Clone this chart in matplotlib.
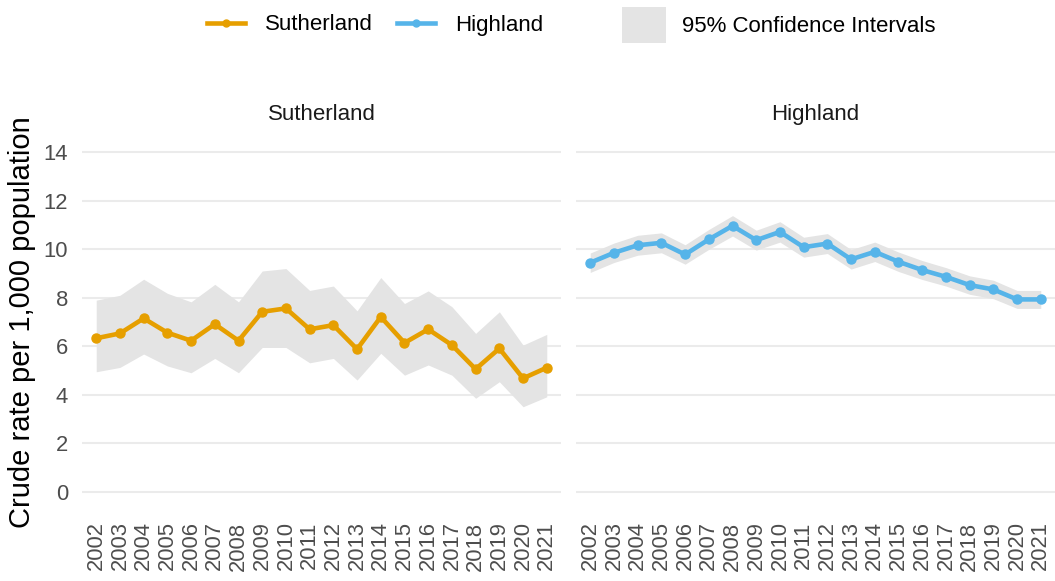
import matplotlib
matplotlib.use("Agg")
import matplotlib.pyplot as plt
from matplotlib.lines import Line2D
from matplotlib.patches import Patch

plt.rcParams["font.family"] = ["Liberation Sans", "DejaVu Sans"]

years = [str(y) for y in range(2002, 2022)]

suth_rate = [6.33, 6.53, 7.15, 6.56, 6.23, 6.91, 6.23, 7.42, 7.56, 6.70,
             6.87, 5.88, 7.21, 6.14, 6.70, 6.05, 5.06, 5.91, 4.68, 5.12]
suth_lower = [4.95, 5.13, 5.68, 5.19, 4.91, 5.50, 4.91, 5.95, 5.95, 5.32,
              5.50, 4.61, 5.71, 4.81, 5.23, 4.81, 3.86, 4.54, 3.51, 3.92]
suth_upper = [7.90, 8.10, 8.76, 8.18, 7.83, 8.55, 7.83, 9.10, 9.20, 8.30,
              8.48, 7.46, 8.83, 7.76, 8.28, 7.63, 6.53, 7.42, 6.05, 6.49]

high_rate = [9.44, 9.85, 10.16, 10.26, 9.78, 10.40, 10.96, 10.37, 10.71, 10.08,
             10.23, 9.58, 9.89, 9.48, 9.14, 8.86, 8.52, 8.34, 7.93, 7.93]
high_lower = [9.04, 9.45, 9.75, 9.85, 9.38, 9.99, 10.54, 9.96, 10.29, 9.67,
              9.82, 9.18, 9.49, 9.08, 8.75, 8.48, 8.14, 7.96, 7.56, 7.56]
high_upper = [9.84, 10.25, 10.57, 10.67, 10.18, 10.81, 11.38, 10.78, 11.13, 10.49,
              10.64, 9.98, 10.29, 9.88, 9.53, 9.24, 8.90, 8.72, 8.30, 8.30]

y_ticks = [0, 2, 4, 6, 8, 10, 12, 14]

ORANGE = "#E69F00"
BLUE = "#56B4E9"
CI_GREY = "#E4E4E4"
GRID = "#EBEBEB"

panels = [
    ("Sutherland", suth_rate, suth_lower, suth_upper, ORANGE),
    ("Highland", high_rate, high_lower, high_upper, BLUE),
]

fig = plt.figure(figsize=(10.55, 5.81), dpi=100)
ax_w = 479 / 1055
ax_h = 374 / 581
ax_b = 72 / 581
axes = [
    fig.add_axes([82 / 1055, ax_b, ax_w, ax_h]),
    fig.add_axes([576 / 1055, ax_b, ax_w, ax_h]),
]

for i, (ax, (name, rate, lo, hi, col)) in enumerate(zip(axes, panels)):
    ax.fill_between(years, lo, hi, color=CI_GREY, linewidth=0, zorder=1)
    ax.plot(years, rate, color=col, linewidth=3.3, marker="o",
            markersize=6.5, zorder=3, solid_joinstyle="round")
    ax.set_xlim(-0.6, len(years) - 0.4)
    ax.set_ylim(-0.7, 14.7)
    ax.set_yticks(y_ticks)
    ax.grid(axis="y", color=GRID, linewidth=1.5, zorder=0)
    ax.set_axisbelow(True)
    for s in ax.spines.values():
        s.set_visible(False)
    ax.tick_params(axis="x", length=0, pad=9, labelsize=15.8,
                   labelcolor="#4D4D4D", labelrotation=90)
    ax.tick_params(axis="y", length=0, pad=10, labelsize=15.8,
                   labelcolor="#4D4D4D")
    if i == 1:
        ax.tick_params(axis="y", labelleft=False)
    ax.set_title(name, fontsize=16, color="#1A1A1A", pad=11)

fig.text(22 / 1055, 1 - 322 / 581, "Crude rate per 1,000 population",
         rotation=90, ha="center", va="center", fontsize=21, color="black")

# legend entries placed one by one so the text baselines line up
legend_items = [
    (Line2D([], [], color=ORANGE, linewidth=3.3, marker="o", markersize=5),
     "Sutherland", 207, 1.7, 0.7, 0.9),
    (Line2D([], [], color=BLUE, linewidth=3.3, marker="o", markersize=5),
     "Highland", 397, 1.7, 0.7, 0.9),
    (Patch(facecolor=CI_GREY, edgecolor="none"),
     "95% Confidence Intervals", 622, 2.0, 2.1, 0.72),
]
for handle, label, x0, hl, hh, tp in legend_items:
    fig.legend([handle], [label], loc="center left",
               bbox_to_anchor=(x0 / 1055, 1 - 25 / 581),
               frameon=False, fontsize=16, handlelength=hl, handleheight=hh,
               handletextpad=tp, borderpad=0, borderaxespad=0)

fig.savefig("out.png", dpi=100)
plt.close(fig)
print("Saved out.png")
